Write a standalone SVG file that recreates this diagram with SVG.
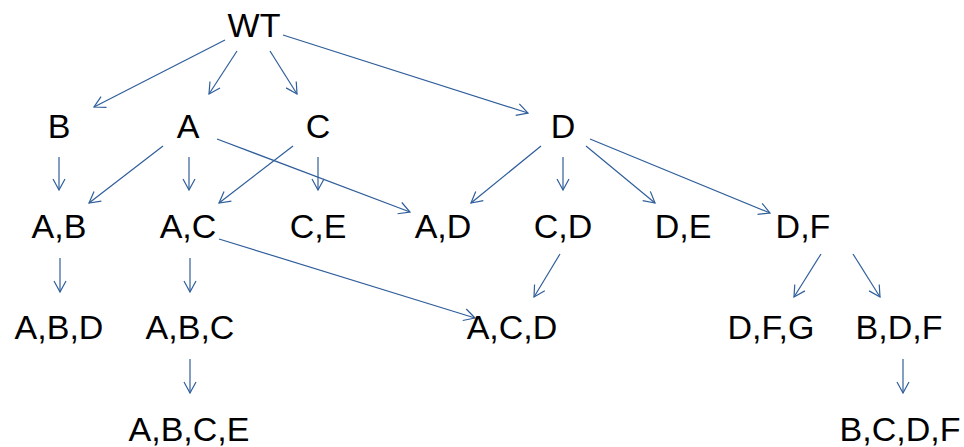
<svg xmlns="http://www.w3.org/2000/svg" width="964" height="447" viewBox="0 0 964 447">
<style>
text{font-family:"Liberation Sans",Arial,sans-serif;font-size:34px;fill:#000;text-anchor:middle}
.c line{stroke:#2F5E9A;stroke-width:1.2;fill:none;marker-end:url(#ah)}
</style>
<defs>
<marker id="ah" markerUnits="userSpaceOnUse" markerWidth="14" markerHeight="14" viewBox="0 0 14 14" refX="12" refY="7" orient="auto">
<path d="M1,1 L12,7 L1,13" fill="none" stroke="#2F5E9A" stroke-width="1.2"/>
</marker>
</defs>
<rect width="964" height="447" fill="#fff"/>
<g class="c" id="connectors">
<line x1="225" y1="40" x2="94" y2="107"/>
<line x1="237" y1="51" x2="209" y2="94"/>
<line x1="270" y1="51" x2="297" y2="94"/>
<line x1="283" y1="35" x2="528" y2="113"/>
<line x1="59" y1="157" x2="59" y2="190"/>
<line x1="163" y1="146" x2="89" y2="203"/>
<line x1="189" y1="157" x2="189" y2="190"/>
<line x1="217" y1="139" x2="410" y2="212"/>
<line x1="293" y1="146" x2="219" y2="203"/>
<line x1="318" y1="157" x2="318" y2="190"/>
<line x1="541" y1="146" x2="471" y2="203"/>
<line x1="563" y1="157" x2="563" y2="190"/>
<line x1="586" y1="146" x2="655" y2="203"/>
<line x1="590" y1="139" x2="770" y2="213"/>
<line x1="60" y1="258" x2="60" y2="292"/>
<line x1="190" y1="258" x2="190" y2="292"/>
<line x1="219" y1="239" x2="475" y2="318"/>
<line x1="560" y1="254" x2="534" y2="297"/>
<line x1="821" y1="254" x2="794" y2="297"/>
<line x1="853" y1="254" x2="880" y2="297"/>
<line x1="190" y1="359" x2="190" y2="393"/>
<line x1="903" y1="359" x2="903" y2="393"/>
</g>
<g id="n-WT"><text x="254" y="37">WT</text></g>
<g id="n-B"><text x="59" y="138">B</text></g>
<g id="n-A"><text x="188" y="138">A</text></g>
<g id="n-C"><text x="318" y="138">C</text></g>
<g id="n-D"><text x="563" y="138">D</text></g>
<g id="n-AB"><text x="59" y="238">A,B</text></g>
<g id="n-AC"><text x="188" y="238">A,C</text></g>
<g id="n-CE"><text x="318" y="238">C,E</text></g>
<g id="n-AD"><text x="443" y="238">A,D</text></g>
<g id="n-CD"><text x="563" y="238">C,D</text></g>
<g id="n-DE"><text x="683" y="238">D,E</text></g>
<g id="n-DF"><text x="803" y="238">D,F</text></g>
<g id="n-ABD"><text x="59" y="339">A,B,D</text></g>
<g id="n-ABC"><text x="190" y="339">A,B,C</text></g>
<g id="n-ACD"><text x="512" y="339">A,C,D</text></g>
<g id="n-DFG"><text x="771" y="339">D,F,G</text></g>
<g id="n-BDF"><text x="899" y="339">B,D,F</text></g>
<g id="n-ABCE"><text x="189" y="441">A,B,C,E</text></g>
<g id="n-BCDF"><text x="900" y="441">B,C,D,F</text></g>
</svg>
